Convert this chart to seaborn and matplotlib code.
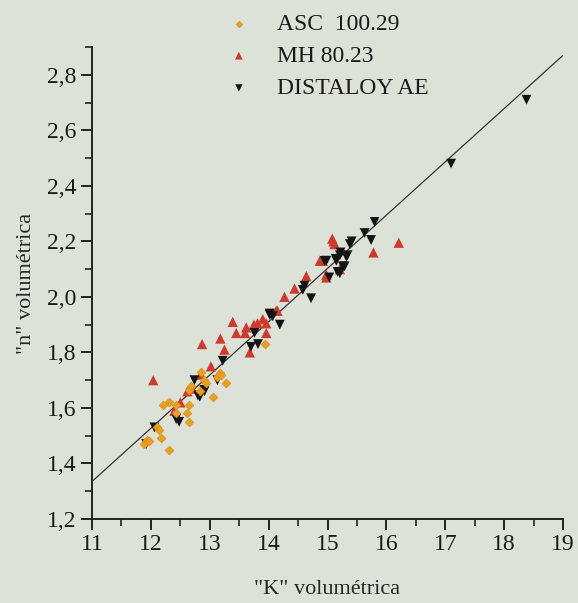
import numpy as np
import pandas as pd
import matplotlib
matplotlib.use("Agg")
import matplotlib.pyplot as plt
import seaborn as sns
from matplotlib.ticker import MultipleLocator, FixedLocator, FixedFormatter

# ---- data ----
asc_k = [11.89, 11.94, 11.96, 12.11, 12.17, 12.13, 12.31, 12.20, 12.31, 12.43, 12.62, 12.64,
         12.65, 12.65, 12.69, 12.83, 12.85, 12.91, 12.94, 13.05, 13.13, 13.18, 13.19, 13.28,
         13.93, 12.43]
asc_n = [1.47, 1.485, 1.48, 1.53, 1.49, 1.52, 1.45, 1.61, 1.62, 1.61, 1.58, 1.55,
         1.61, 1.665, 1.68, 1.66, 1.73, 1.70, 1.69, 1.64, 1.71, 1.725, 1.72, 1.69,
         1.83, 1.58]

mh_k = [12.04, 12.40, 12.50, 12.62, 12.70, 12.85, 12.87, 13.02, 13.18, 13.25, 13.39, 13.45,
        13.60, 13.62, 13.68, 13.75, 13.81, 13.90, 13.96, 13.96, 14.13, 14.15, 14.27, 14.44,
        14.64, 14.87, 14.92, 14.98, 14.98, 15.08, 15.10, 15.12, 15.21, 15.78, 16.21]
mh_n = [1.70, 1.59, 1.62, 1.66, 1.67, 1.72, 1.83, 1.75, 1.85, 1.81, 1.91, 1.87,
        1.87, 1.89, 1.80, 1.90, 1.905, 1.92, 1.905, 1.87, 1.95, 1.95, 2.00, 2.03,
        2.075, 2.13, 2.13, 2.08, 2.07, 2.21, 2.20, 2.19, 2.10, 2.16, 2.195]

dis_k = [11.92, 12.06, 12.43, 12.48, 12.74, 12.80, 12.83, 12.91, 12.91, 13.13, 13.22, 13.70,
         13.76, 13.82, 14.02, 14.02, 14.07, 14.19, 14.58, 14.61, 14.72, 14.95, 14.98, 15.03,
         15.14, 15.15, 15.17, 15.21, 15.21, 15.22, 15.26, 15.29, 15.32, 15.34, 15.38, 15.41,
         15.63, 15.74, 15.80, 17.10, 18.38]
dis_n = [1.47, 1.53, 1.56, 1.55, 1.70, 1.645, 1.64, 1.66, 1.665, 1.70, 1.77, 1.82,
         1.87, 1.83, 1.935, 1.94, 1.93, 1.90, 2.025, 2.04, 1.995, 2.13, 2.13, 2.07,
         2.137, 2.13, 2.09, 2.15, 2.085, 2.16, 2.11, 2.11, 2.145, 2.15, 2.19, 2.20,
         2.23, 2.205, 2.27, 2.48, 2.71]

fit_k = [11.0, 19.0]
fit_n = [1.335, 2.87]

labels = ["ASC  100.29", "MH 80.23", "DISTALOY AE"]
x_ticks = [11, 12, 13, 14, 15, 16, 17, 18, 19]
y_ticks = [1.2, 1.4, 1.6, 1.8, 2.0, 2.2, 2.4, 2.6, 2.8]
y_tick_labels = ["1,2", "1,4", "1,6", "1,8", "2,0", "2,2", "2,4", "2,6", "2,8"]

# ---- style ----
sns.set_style("ticks")
bg = "#dde2d8"
plt.rcParams["font.family"] = ["Liberation Serif", "DejaVu Serif"]
plt.rcParams["text.color"] = "#1a1a1a"

fig = plt.figure(figsize=(5.78, 6.03), dpi=100, facecolor=bg)
ax = fig.add_axes([92 / 578, 84 / 603, (563 - 92) / 578, 472 / 603])
ax.set_facecolor(bg)

sns.lineplot(x=fit_k, y=fit_n, ax=ax, color="#333333", lw=0.9, zorder=1)
sns.scatterplot(x=asc_k, y=asc_n, ax=ax, marker="D", s=20, color="#e8a024",
                edgecolor="#e09018", linewidth=0.5, label=labels[0], zorder=3)
sns.scatterplot(x=mh_k, y=mh_n, ax=ax, marker="^", s=55, color="#d03a2c",
                edgecolor="none", label=labels[1], zorder=2)
sns.scatterplot(x=dis_k, y=dis_n, ax=ax, marker="v", s=50, color="#141414",
                edgecolor="none", label=labels[2], zorder=2)

ax.set_xlim(11, 19)
ax.set_ylim(1.2, 2.9)
ax.xaxis.set_major_locator(FixedLocator(x_ticks))
ax.xaxis.set_minor_locator(MultipleLocator(0.5))
ax.yaxis.set_major_locator(FixedLocator(y_ticks))
ax.yaxis.set_major_formatter(FixedFormatter(y_tick_labels))
ax.yaxis.set_minor_locator(MultipleLocator(0.1))

for s in ["top", "right"]:
    ax.spines[s].set_visible(False)
for s in ["left", "bottom"]:
    ax.spines[s].set_linewidth(1.4)
    ax.spines[s].set_color("#222222")

ax.tick_params(which="major", direction="out", length=8, width=1.4, color="#222222",
               labelsize=17, labelcolor="#1a1a1a", pad=3)
ax.tick_params(which="minor", direction="out", length=5, width=1.2, color="#222222")

ax.set_xlabel('"K" volumétrica', fontsize=16, labelpad=18)
ax.set_ylabel('"n" volumétrica', fontsize=16, labelpad=8)

ax.get_legend().remove()
h, l = ax.get_legend_handles_labels()
leg = fig.legend(h, l, loc="upper left", bbox_to_anchor=(194 / 578, 1 + 8 / 603),
                 frameon=False, fontsize=17, handletextpad=0.6, labelspacing=0.45,
                 markerscale=0.75)

fig.savefig("out.png", dpi=100, facecolor=bg)
